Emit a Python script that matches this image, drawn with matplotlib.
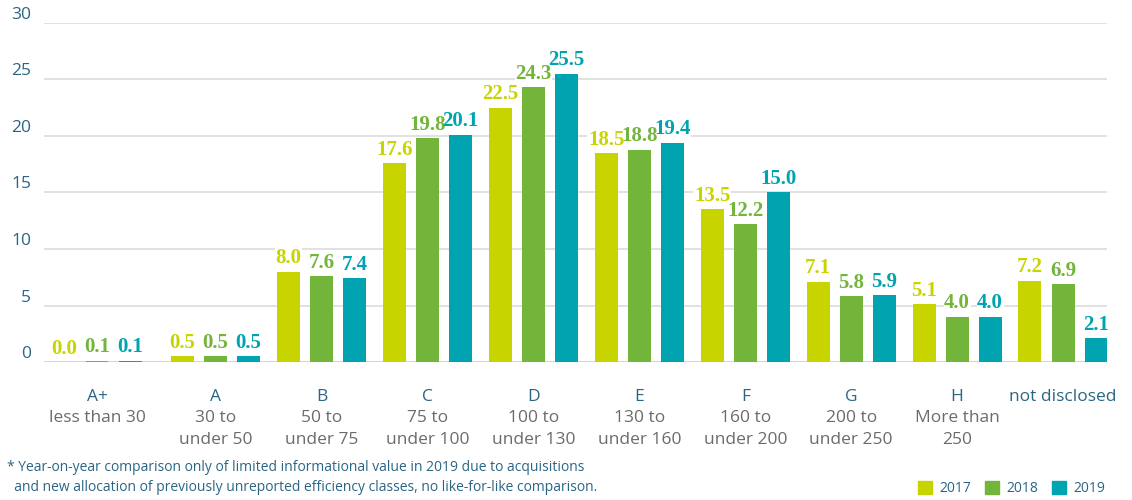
import numpy as np
import matplotlib.pyplot as plt
from matplotlib.patches import Rectangle
from matplotlib.transforms import blended_transform_factory

# data
classes = ["A+", "A", "B", "C", "D", "E", "F", "G", "H", "not disclosed"]
ranges = ["less than 30", "30 to\nunder 50", "50 to\nunder 75", "75 to\nunder 100",
          "100 to\nunder 130", "130 to\nunder 160", "160 to\nunder 200",
          "200 to\nunder 250", "More than\n250", ""]
v2017 = [0.0, 0.5, 8.0, 17.6, 22.5, 18.5, 13.5, 7.1, 5.1, 7.2]
v2018 = [0.1, 0.5, 7.6, 19.8, 24.3, 18.8, 12.2, 5.8, 4.0, 6.9]
v2019 = [0.1, 0.5, 7.4, 20.1, 25.5, 19.4, 15.0, 5.9, 4.0, 2.1]
years = ["2017", "2018", "2019"]
colors = ["#c8d400", "#72b53a", "#00a3b0"]
yticks = [0, 5, 10, 15, 20, 25, 30]
footnote = ("* Year-on-year comparison only of limited informational value in 2019 due to acquisitions\n"
            "  and new allocation of previously unreported efficiency classes, no like-for-like comparison.")

blue = "#2a6585"
grey = "#6b6b6b"
sans = ["Open Sans", "DejaVu Sans"]
serif = ["Liberation Serif", "DejaVu Serif"]

fig = plt.figure(figsize=(11.32, 5), dpi=100)
ax = fig.add_axes([0.0389, 0.276, 0.939, 0.678])

# group centres (first group sits a little to the left in the original)
x = np.arange(len(classes), dtype=float)
x[0] = -0.12
w = 0.217
off = 0.312
for i, (vals, c) in enumerate(zip([v2017, v2018, v2019], colors)):
    xs = x + (i - 1) * off
    ax.bar(xs, vals, width=w, color=c, zorder=3)
    for xi, v in zip(xs, vals):
        lbl = f"{v:.1f}"
        # white knock-out behind the label so gridlines break, drawn under all labels
        ax.text(xi, v + 0.3, lbl, ha="center", va="bottom", color="white",
                fontsize=15, fontweight="bold", family=serif, zorder=3.5,
                bbox=dict(facecolor="white", edgecolor="none", pad=0.5))
        ax.text(xi, v + 0.3, lbl, ha="center", va="bottom", color=c,
                fontsize=15, fontweight="bold", family=serif, zorder=4)

ax.set_xlim(-0.62, 9.415)
ax.set_ylim(0, 30)
for yv in yticks:
    ax.axhline(yv, color="#dedede" if yv else "#c8c8c8", lw=1.3 if yv else 1.8, zorder=1)
for s in ax.spines.values():
    s.set_visible(False)
ax.set_xticks([])
ax.set_yticks([])

# y labels sitting just above the gridlines
ytrans = blended_transform_factory(ax.transAxes, ax.transData)
for yv in yticks:
    ax.text(-0.012, yv, str(yv), ha="right", va="bottom", color=blue,
            fontsize=12.5, family=sans, transform=ytrans)

# category labels, one line at a time
hpx = 339.0
xtrans = blended_transform_factory(ax.transData, ax.transAxes)
for xi, cl, rg in zip(x, classes, ranges):
    ax.text(xi, -35 / hpx, cl, ha="center", va="center", color=blue,
            fontsize=12.5, family=sans, transform=xtrans)
    for k, line in enumerate(rg.split("\n") if rg else []):
        ax.text(xi, -(56 + 22 * k) / hpx, line, ha="center", va="center", color=grey,
                fontsize=12.5, family=sans, transform=xtrans)

fig.text(0.006, 0.045, footnote, ha="left", va="center", color=blue,
         fontsize=10, family=sans, linespacing=1.5)

# legend
for lx, yr, c in zip([918, 985, 1052], years, colors):
    fig.patches.append(Rectangle((lx / 1132, 6 / 500), 14 / 1132, 13 / 500,
                                 transform=fig.transFigure, color=c))
    fig.text((lx + 21) / 1132, 12 / 500, yr, ha="left", va="center", color=blue,
             fontsize=10, family=sans)

fig.savefig("out.png", dpi=100)
